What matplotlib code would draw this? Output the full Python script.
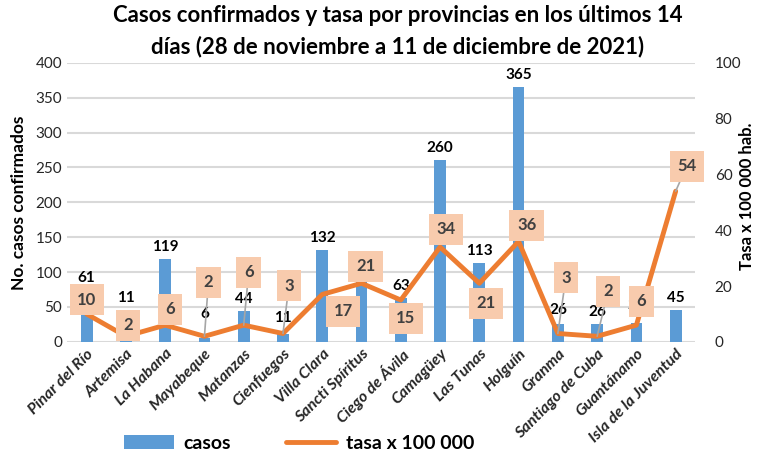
import numpy as np
import matplotlib.pyplot as plt

plt.rcParams['font.family'] = ['Lato', 'DejaVu Sans']

provincias = ['Pinar del Río', 'Artemisa', 'La Habana', 'Mayabeque', 'Matanzas',
              'Cienfuegos', 'Villa Clara', 'Sancti Spíritus', 'Ciego de Ávila',
              'Camagüey', 'Las Tunas', 'Holguín', 'Granma', 'Santiago de Cuba',
              'Guantánamo', 'Isla de la Juventud']
casos = [61, 11, 119, 6, 44, 11, 132, 92, 63, 260, 113, 365, 26, 26, 27, 45]
tasa = [10, 2, 6, 2, 6, 3, 17, 21, 15, 34, 21, 36, 3, 2, 6, 54]

# label box offsets in pixels (dx, dy) and whether a leader line is drawn
offsets = [(0, 14), (2, 11), (5, 16), (4, 54), (5, 53), (6, 48), (21, -17), (4, 17),
           (5, -18), (6, 18), (7, -20), (8, 16), (8, 56), (11, 45), (5, 24), (11, 25)]
leader = [False, False, False, True, True, True, False, False,
          False, False, False, False, True, True, False, True]
# extra lift for a few bar labels (pixels)
lift = [9, 24, 0, 12, 0, 4, 0, 0, 0, 0, 0, 0, 2, 0, 6, 0]

blue = '#5b9bd5'
orange = '#ed7d31'
grid_c = '#d9d9d9'

fig = plt.figure(figsize=(7.57, 4.62), dpi=100)
ax = fig.add_axes([0.0885, 0.26, 0.83, 0.604])
ax2 = ax.twinx()

x = np.arange(len(provincias))
bars = ax.bar(x, casos, width=0.3, color=blue, label='casos', zorder=2)
for xi, v, lf in zip(x, casos, lift):
    ax.annotate(str(v), (xi, v), xytext=(0, 5 + lf), textcoords='offset pixels',
                ha='center', va='bottom', fontsize=11, fontweight='bold', color='black')

ax.set_ylim(0, 400)
ax.set_yticks(range(0, 401, 50))
ax.set_xlim(-0.5, len(provincias) - 0.5)
ax.yaxis.grid(True, color=grid_c, lw=1.5, zorder=0)
ax.set_axisbelow(True)
for s in ax.spines.values():
    s.set_visible(False)
for s in ax2.spines.values():
    s.set_visible(False)
ax.tick_params(length=0, labelsize=11, colors='#262626')
ax.set_xticks(x)
ax.set_xticklabels(provincias, rotation=45, ha='right', rotation_mode='anchor',
                   fontsize=11.5, fontweight='bold', fontstyle='italic')
ax.set_ylabel('No. casos confirmados', fontsize=12.5, fontweight='bold', labelpad=6)

line, = ax2.plot(x, tasa, color=orange, lw=3.5, label='tasa x 100 000', solid_capstyle='round')
ax2.set_ylim(0, 100)
ax2.set_yticks(range(0, 101, 20))
ax2.tick_params(length=0, labelsize=11, colors='#262626', pad=14)
fig.text(0.987, 0.576, 'Tasa x 100 000 hab.', rotation=90, ha='center', va='center',
         fontsize=12, fontweight='bold')

for xi, v, (dx, dy), ld in zip(x, tasa, offsets, leader):
    kw = {}
    if ld:
        kw['arrowprops'] = dict(arrowstyle='-', color='#a6a6a6', lw=1.2, shrinkA=0, shrinkB=0)
    ax2.annotate(str(v), (xi, v), xytext=(dx, dy), textcoords='offset pixels',
                 ha='center', va='center', fontsize=12, fontweight='bold', color='#404040',
                 bbox=dict(boxstyle='square,pad=0.45', fc='#f8cbad', ec='none'), **kw)

fig.suptitle('Casos confirmados y tasa por provincias en los últimos 14\n'
             'días (28 de noviembre a 11 de diciembre de 2021)',
             x=0.525, y=0.99, fontsize=16, fontweight='bold', linespacing=1.55)

fig.legend([bars, line], ['casos', 'tasa x 100 000'], loc='center', ncol=2,
           bbox_to_anchor=(0.395, 0.041), frameon=False,
           prop={'weight': 'bold', 'size': 14}, handlelength=2.6, columnspacing=2.8,
           handletextpad=0.5)

fig.savefig('out.png', dpi=100)
